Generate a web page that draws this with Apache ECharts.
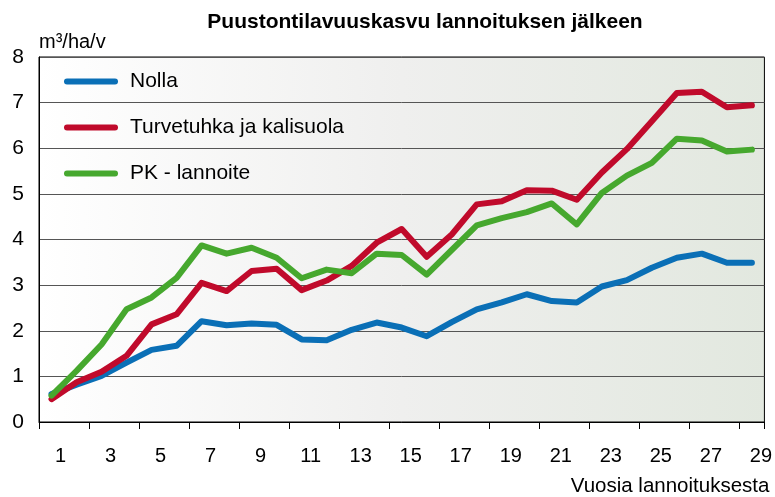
<!DOCTYPE html>
<html>
<head>
<meta charset="utf-8">
<script src="https://cdn.jsdelivr.net/npm/echarts@6/dist/echarts.min.js"></script>
<style>
  html, body { margin: 0; padding: 0; background: #fff; }
  #main { width: 775px; height: 497px; }
</style>
</head>
<body>
<div id="main"></div>
<script>
// vuodet lannoituksesta
const years = ['1','2','3','4','5','6','7','8','9','10','11','12','13','14','15',
  '16','17','18','19','20','21','22','23','24','25','26','27','28','29'];

const nolla = [0.61, 0.82, 1.01, 1.30, 1.58, 1.67, 2.21, 2.12, 2.16, 2.13, 1.81, 1.79, 2.02, 2.18, 2.07,
  1.88, 2.19, 2.47, 2.62, 2.80, 2.65, 2.62, 2.97, 3.11, 3.38, 3.60, 3.69, 3.49, 3.49];
const turvetuhka = [0.50, 0.87, 1.10, 1.45, 2.14, 2.36, 3.05, 2.87, 3.31, 3.36, 2.89, 3.10, 3.42, 3.93, 4.23,
  3.62, 4.11, 4.77, 4.84, 5.08, 5.07, 4.87, 5.47, 5.98, 6.59, 7.21, 7.24, 6.90, 6.94];
const pkLannoite = [0.58, 1.12, 1.70, 2.47, 2.73, 3.16, 3.87, 3.69, 3.82, 3.60, 3.15, 3.34, 3.26, 3.69, 3.66,
  3.23, 3.77, 4.31, 4.47, 4.60, 4.79, 4.33, 5.02, 5.40, 5.68, 6.21, 6.17, 5.93, 5.97];

const font = 'Arial, "Liberation Sans", sans-serif';
// paksu viiva pyöreillä päillä legendaan
const legendIcon = 'path://M3 0H51A3 3 0 0 1 51 6H3A3 3 0 0 1 3 0Z';

function lineSeries(name, data, color) {
  return {
    name: name,
    type: 'line',
    data: data,
    symbol: 'none',
    color: color,
    lineStyle: { width: 6, color: color, cap: 'round', join: 'round' },
    emphasis: { disabled: true }
  };
}

const chart = echarts.init(document.getElementById('main'));
chart.setOption({
  animation: false,
  title: {
    text: 'Puustontilavuuskasvu lannoituksen jälkeen',
    left: 420,
    textAlign: 'center',
    top: 7,
    textStyle: { fontFamily: font, fontSize: 21, fontWeight: 'bold', color: '#000' }
  },
  legend: {
    orient: 'vertical',
    left: 59,
    top: 66,
    icon: legendIcon,
    itemWidth: 54,
    itemHeight: 6,
    itemGap: 25,
    textStyle: { fontFamily: font, fontSize: 21, color: '#000', padding: [0, 0, 0, 7] },
    data: ['Nolla', 'Turvetuhka ja kalisuola', 'PK - lannoite']
  },
  grid: {
    left: 39, right: 9, top: 57, bottom: 74,
    show: true,
    borderColor: '#000',
    borderWidth: 1,
    backgroundColor: new echarts.graphic.LinearGradient(0, 0, 1, 0, [
      { offset: 0, color: '#ffffff' },
      { offset: 0.5, color: '#efefee' },
      { offset: 1, color: '#e2e8df' }
    ])
  },
  xAxis: {
    type: 'category',
    data: years,
    boundaryGap: true,
    name: 'Vuosia lannoituksesta',
    nameLocation: 'end',
    nameGap: 5,
    nameTextStyle: {
      fontFamily: font, fontSize: 20.5, color: '#000',
      align: 'right', verticalAlign: 'top', padding: [54, 0, 0, 0]
    },
    axisLine: { lineStyle: { color: '#000', width: 1 } },
    axisTick: { show: true, interval: 1, length: 7, lineStyle: { color: '#000' } },
    axisLabel: {
      interval: 1,
      margin: 24,
      fontFamily: font, fontSize: 20, color: '#000',
      padding: [0, 0, 0, 18]
    },
    splitLine: { show: false }
  },
  yAxis: {
    type: 'value',
    min: 0, max: 8, interval: 1,
    name: 'm³/ha/v',
    nameLocation: 'end',
    nameGap: 15,
    nameTextStyle: { fontFamily: font, fontSize: 20, color: '#000', align: 'left', verticalAlign: 'middle' },
    axisLine: { show: true, lineStyle: { color: '#000' } },
    axisTick: { show: false },
    axisLabel: { margin: 15, fontFamily: font, fontSize: 21, color: '#000' },
    splitLine: { lineStyle: { color: '#555', width: 1 } }
  },
  series: [
    lineSeries('Nolla', nolla, '#0a6fb6'),
    lineSeries('Turvetuhka ja kalisuola', turvetuhka, '#c00a2b'),
    lineSeries('PK - lannoite', pkLannoite, '#46a82e')
  ]
});
</script>
</body>
</html>
